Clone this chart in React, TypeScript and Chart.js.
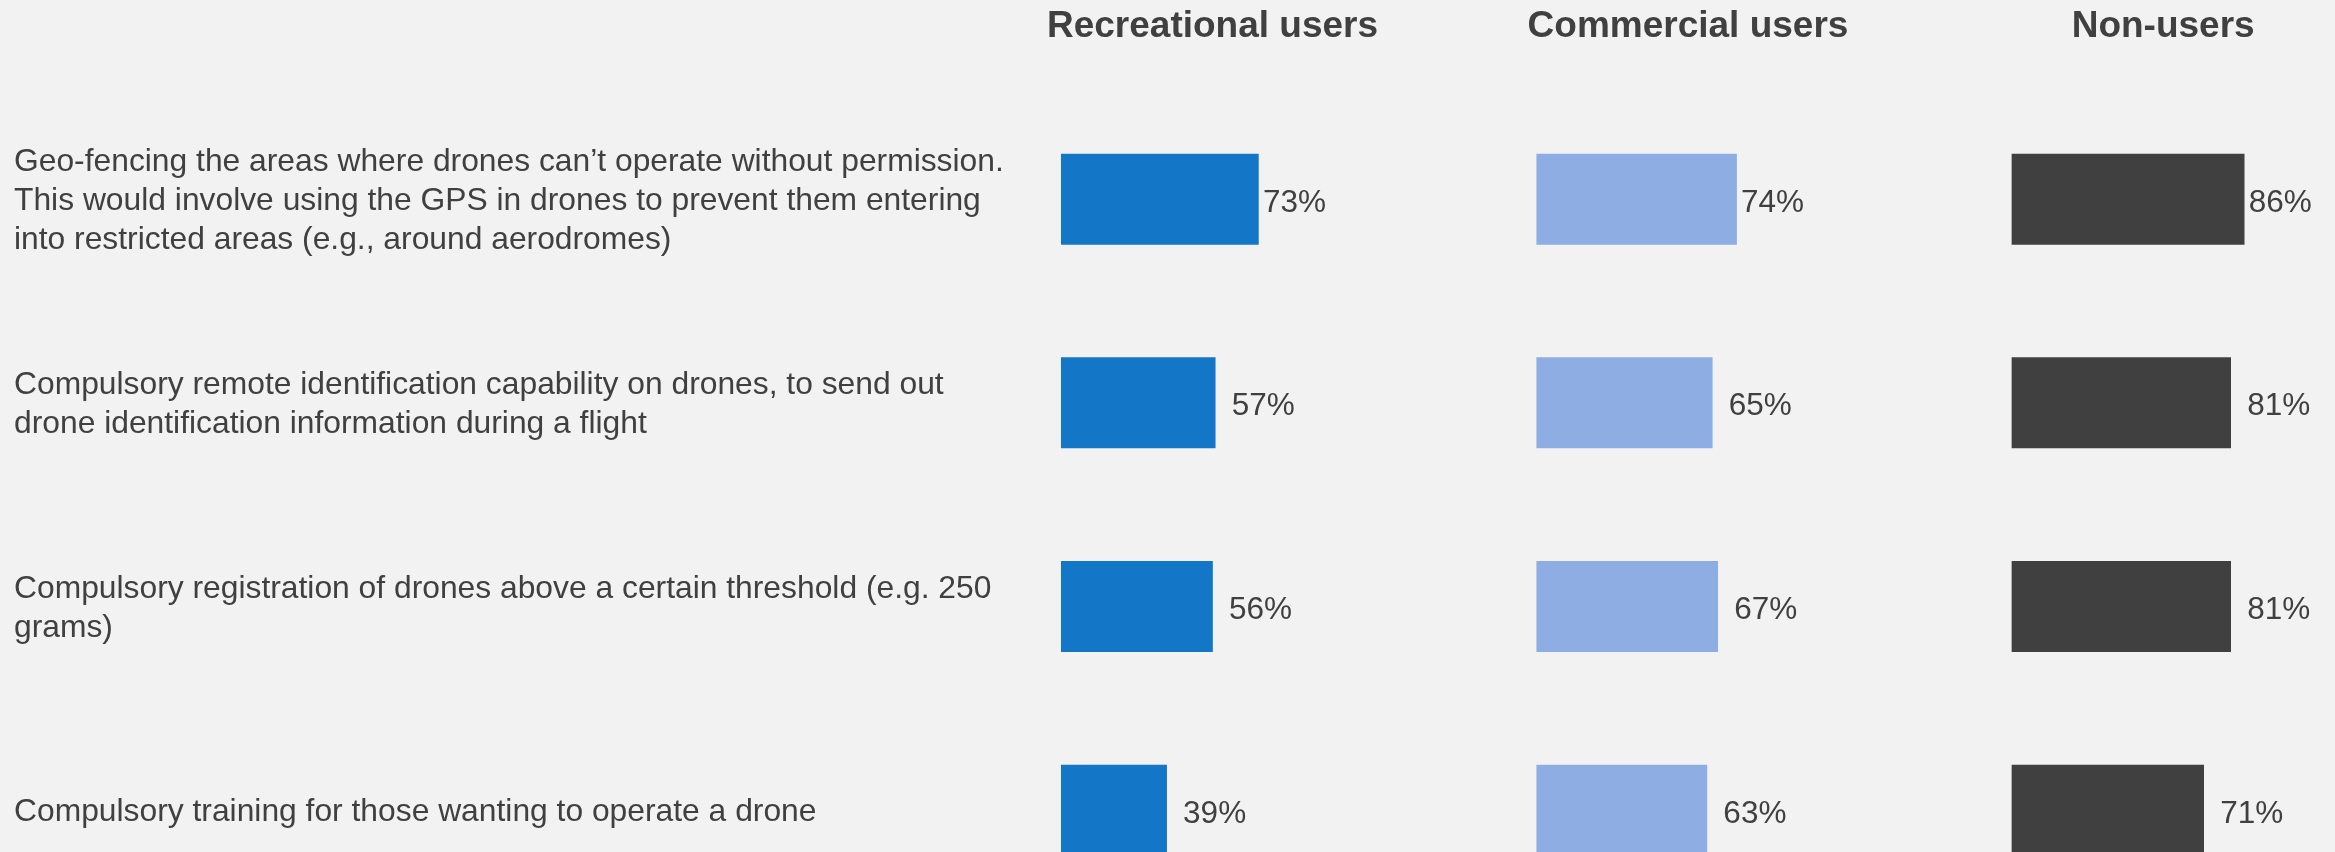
import React, { useEffect, useRef } from 'react';
import { Chart, registerables } from 'chart.js';

Chart.register(...registerables);

// ---- Data ----
const categories: string[][] = [
  [
    'Geo-fencing the areas where drones can’t operate without permission.',
    'This would involve using the GPS in drones to prevent them entering',
    'into restricted areas (e.g., around aerodromes)',
  ],
  [
    'Compulsory remote identification capability on drones, to send out',
    'drone identification information during a flight',
  ],
  [
    'Compulsory registration of drones above a certain threshold (e.g. 250',
    'grams)',
  ],
  ['Compulsory training for those wanting to operate a drone'],
];

const seriesNames = ['Recreational users', 'Commercial users', 'Non-users'];
const recreational = [73, 57, 56, 39];
const commercial = [74, 65, 67, 63];
const nonUsers = [86, 81, 81, 71];

// ---- Styles / layout ----
const W = 2335;
const H = 852;
const FONT = '"Liberation Sans", Arial, Helvetica, sans-serif';
const TEXT = '#404040';
const BG = '#F2F2F2';
const COLORS = ['#1476C6', '#8EAEE3', '#404040'];
const PX_PER_UNIT = 2.7;
const PANEL_LEFT = 1061.3;
const PANEL_OFFSETS = [0, 176.1, 352.1]; // in value units
const HEADER_CENTER = 56; // in value units of each panel
const LABEL_GAPS = [4.5, 16.5, 16.5, 16.5];
const ROW_FIRST = 199.15;
const ROW_LAST = 810.2;

export default function App() {
  const ref = useRef<HTMLCanvasElement | null>(null);

  useEffect(() => {
    if (!ref.current) return;
    document.body.style.background = BG;
    const areaW = W - PANEL_LEFT;
    const span = areaW / PX_PER_UNIT;
    const series = [recreational, commercial, nonUsers];
    const axisIds = ['x1', 'x2', 'x3'];

    const xScales: any = {};
    axisIds.forEach((id, i) => {
      xScales[id] = {
        type: 'linear',
        display: false,
        min: -PANEL_OFFSETS[i],
        max: span - PANEL_OFFSETS[i],
      };
    });

    const labelPlugin = {
      id: 'valueLabels',
      afterDatasetsDraw(chart: any) {
        const ctx = chart.ctx;
        ctx.save();
        ctx.fillStyle = TEXT;
        ctx.font = `31.5px ${FONT}`;
        ctx.textAlign = 'left';
        ctx.textBaseline = 'alphabetic';
        chart.data.datasets.forEach((ds: any, di: number) => {
          const meta = chart.getDatasetMeta(di);
          meta.data.forEach((bar: any, i: number) => {
            ctx.fillText(`${ds.data[i]}%`, bar.x + LABEL_GAPS[i], bar.y + 12.5);
          });
        });
        // headers
        ctx.font = `bold 37px ${FONT}`;
        ctx.textAlign = 'center';
        seriesNames.forEach((name, i) => {
          const sc = chart.scales[axisIds[i]];
          ctx.fillText(name, sc.getPixelForValue(HEADER_CENTER), 36.7);
        });
        ctx.restore();
      },
    };

    const chart = new Chart(ref.current, {
      type: 'bar',
      data: {
        labels: categories as any,
        datasets: series.map((data, i) => ({
          label: seriesNames[i],
          data,
          xAxisID: axisIds[i],
          backgroundColor: COLORS[i],
          borderWidth: 0,
          barThickness: 90.3,
          grouped: false,
          clip: false as any,
        })),
      },
      options: {
        indexAxis: 'y',
        animation: false,
        responsive: false,
        devicePixelRatio: 1,
        layout: {
          padding: { left: 14, right: 0, top: ROW_FIRST, bottom: H - ROW_LAST },
        },
        plugins: {
          legend: { display: false },
          tooltip: { enabled: false },
        },
        scales: {
          ...xScales,
          y: {
            type: 'category',
            offset: false,
            grid: { display: false },
            border: { display: false },
            ticks: {
              crossAlign: 'far',
              autoSkip: false,
              color: TEXT,
              labelOffset: 2,
              font: { family: FONT, size: 31.8, lineHeight: 1.225 },
            },
            afterFit: (scale: any) => {
              scale.width = PANEL_LEFT - 14;
              scale.paddingTop = 0;
              scale.paddingBottom = 0;
            },
          },
        },
      } as any,
      plugins: [labelPlugin],
    });

    return () => chart.destroy();
  }, []);

  return (
    <div style={{ position: 'absolute', left: 0, top: 0, width: W, height: H, background: BG }}>
      <canvas ref={ref} width={W} height={H} style={{ width: W, height: H, display: 'block' }} />
    </div>
  );
}
